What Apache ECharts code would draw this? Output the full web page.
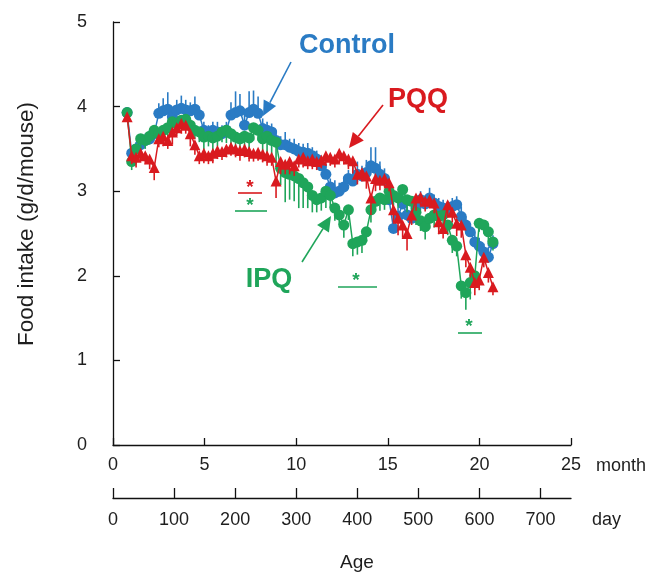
<!DOCTYPE html>
<html>
<head>
<meta charset="utf-8">
<script src="https://cdn.jsdelivr.net/npm/echarts@6/dist/echarts.min.js"></script>
<style>
html,body{margin:0;padding:0;background:#fff;}
#chart{width:656px;height:579px;}
</style>
</head>
<body>
<div id="chart"></div>
<script>
// ---- data (age in months, food intake g/d/mouse) ----
const months = [0.77,1.02,1.26,1.51,1.76,2.00,2.25,2.50,2.74,2.99,3.24,3.48,3.73,3.97,4.22,4.47,4.71,4.96,5.21,5.45,5.70,5.95,6.19,6.44,6.69,6.93,7.18,7.43,7.67,7.92,8.17,8.41,8.66,8.90,9.15,9.40,9.64,9.89,10.14,10.38,10.63,10.88,11.12,11.37,11.62,11.86,12.11,12.35,12.60,12.85,13.09,13.34,13.59,13.83,14.08,14.33,14.57,14.82,15.07,15.31,15.56,15.81,16.05,16.30,16.54,16.79,17.04,17.28,17.53,17.78,18.02,18.27,18.52,18.76,19.01,19.26,19.50,19.75,19.99,20.24,20.49,20.74];

const controlVals = [3.93,3.45,3.5,3.55,3.6,3.62,3.68,3.92,3.95,3.97,3.88,3.96,3.98,3.96,3.95,3.97,3.9,3.72,3.7,3.72,3.7,3.68,3.72,3.9,3.93,3.95,3.78,3.93,3.97,3.92,3.74,3.72,3.7,3.6,3.55,3.55,3.52,3.5,3.47,3.46,3.45,3.42,3.38,3.3,3.2,3.05,2.98,3.0,3.05,3.15,3.12,3.2,3.18,3.22,3.3,3.27,3.2,3.15,2.9,2.56,2.7,2.85,2.72,2.68,2.8,2.9,2.85,2.92,2.86,2.82,2.8,2.76,2.82,2.84,2.7,2.6,2.52,2.4,2.35,2.28,2.22,2.38];
const controlErr = [0.05,0.08,0.08,0.1,0.08,0.1,0.1,0.12,0.15,0.2,0.1,0.12,0.15,0.12,0.1,0.15,0.1,0.1,0.08,0.1,0.12,0.1,0.1,0.15,0.25,0.2,0.15,0.25,0.22,0.2,0.12,0.1,0.1,0.12,0.1,0.15,0.1,0.12,0.1,0.1,0.12,0.1,0.1,0.1,0.12,0.1,0.15,0.1,0.12,0.1,0.2,0.15,0.12,0.15,0.22,0.25,0.15,0.12,0.1,0.12,0.1,0.12,0.1,0.1,0.12,0.1,0.1,0.12,0.1,0.1,0.1,0.12,0.1,0.1,0.12,0.1,0.1,0.12,0.1,0.1,0.12,0.1];

const pqqVals = [3.88,3.42,3.4,3.45,3.42,3.38,3.28,3.62,3.65,3.6,3.7,3.75,3.8,3.78,3.68,3.55,3.42,3.45,3.42,3.45,3.48,3.47,3.5,3.52,3.5,3.48,3.5,3.47,3.45,3.46,3.44,3.42,3.4,3.12,3.35,3.32,3.35,3.3,3.38,3.4,3.36,3.38,3.35,3.37,3.42,3.4,3.38,3.45,3.42,3.38,3.36,3.2,3.22,3.18,2.92,3.15,3.13,3.15,3.1,2.78,2.68,2.6,2.5,2.72,2.92,2.93,2.88,2.9,2.86,2.64,2.56,2.84,2.75,2.62,2.6,2.25,2.1,1.92,1.95,2.22,2.04,1.87];
const pqqErr = [0.05,0.1,0.12,0.1,0.1,0.12,0.15,0.1,0.12,0.1,0.15,0.1,0.12,0.1,0.15,0.12,0.1,0.12,0.1,0.12,0.1,0.1,0.1,0.1,0.1,0.12,0.1,0.12,0.1,0.1,0.1,0.12,0.1,0.2,0.15,0.12,0.15,0.12,0.1,0.12,0.1,0.12,0.1,0.1,0.12,0.1,0.1,0.12,0.1,0.12,0.15,0.12,0.1,0.15,0.2,0.15,0.12,0.1,0.1,0.15,0.2,0.15,0.2,0.12,0.15,0.1,0.12,0.1,0.12,0.15,0.12,0.15,0.12,0.15,0.15,0.15,0.12,0.15,0.12,0.12,0.12,0.1];

const ipqVals = [3.93,3.35,3.5,3.62,3.6,3.65,3.72,3.68,3.72,3.75,3.82,3.8,3.84,3.85,3.78,3.72,3.7,3.64,3.65,3.63,3.65,3.7,3.72,3.68,3.64,3.62,3.65,3.63,3.75,3.72,3.62,3.65,3.6,3.58,3.27,3.22,3.2,3.18,3.15,3.1,3.05,2.95,2.9,2.92,3.0,2.95,2.8,2.72,2.6,2.78,2.38,2.4,2.42,2.52,2.78,2.88,2.92,2.9,3.0,2.95,2.92,3.02,2.9,2.88,2.75,2.65,2.58,2.68,2.72,2.7,2.72,2.6,2.42,2.35,1.88,1.8,1.92,2.0,2.62,2.6,2.52,2.4];
const ipqErr = [0.05,0.1,0.1,0.12,0.1,0.1,0.1,0.1,0.12,0.1,0.1,0.12,0.1,0.12,0.15,0.1,0.12,0.15,0.12,0.15,0.12,0.12,0.15,0.15,0.12,0.15,0.12,0.12,0.15,0.12,0.15,0.2,0.25,0.3,0.2,0.35,0.3,0.3,0.35,0.3,0.25,0.2,0.15,0.15,0.2,0.15,0.15,0.12,0.15,0.12,0.15,0.15,0.15,0.12,0.15,0.12,0.15,0.12,0.15,0.12,0.12,0.15,0.15,0.12,0.15,0.12,0.15,0.12,0.15,0.15,0.12,0.12,0.15,0.12,0.15,0.2,0.2,0.15,0.1,0.1,0.12,0.1];

const monthTicks = [0,5,10,15,20,25];
const dayTicks = [0,100,200,300,400,500,600,700];
const yTicks = [0,1,2,3,4,5];

// ---- style ----
const BLUE = '#2a7bc4', RED = '#d91a1f', GREEN = '#1fa55a';
const FONT = 'Liberation Sans, Arial, sans-serif';
const TXT = '#1e1e1e';

function pairs(vals){ return months.map((m,i)=>[m, vals[i]]); }
function errPairs(vals, errs){ return months.map((m,i)=>[m, vals[i], errs[i]]); }
function errSeries(vals, errs, dir, color, z){
  return {
    type:'custom', xAxisIndex:0, yAxisIndex:0, z:z, silent:true,
    data: errPairs(vals, errs),
    renderItem: function(params, api){
      const x = api.value(0), y = api.value(1), e = api.value(2);
      const p1 = api.coord([x, y]);
      const p2 = api.coord([x, y + dir*e]);
      return {type:'line', shape:{x1:p1[0],y1:p1[1],x2:p2[0],y2:p2[1]},
              style:{stroke:color, lineWidth:1.6}};
    }
  };
}
function lineSeries(name, vals, color, symbol, size, z){
  return {
    name:name, type:'line', xAxisIndex:0, yAxisIndex:0, z:z,
    data: pairs(vals), symbol:symbol, symbolSize:size, showSymbol:true,
    lineStyle:{color:color, width:1.5}, itemStyle:{color:color, borderWidth:0},
    emphasis:{disabled:true}
  };
}

function arrow(x1,y1,x2,y2,color){
  const dx=x2-x1, dy=y2-y1, L=Math.hypot(dx,dy), ux=dx/L, uy=dy/L;
  const hl=15, hw=7;
  const bx=x2-ux*hl, by=y2-uy*hl;
  return [
    {type:'line', shape:{x1:x1,y1:y1,x2:bx,y2:by}, style:{stroke:color, lineWidth:1.6}, z:100},
    {type:'polygon', shape:{points:[[x2,y2],[bx-uy*hw,by+ux*hw],[bx+uy*hw,by-ux*hw]]}, style:{fill:color}, z:100}
  ];
}
function label(txt, x, y, color){
  return {type:'text', x:x, y:y, z:100, style:{text:txt, fill:color, font:'bold 27px '+FONT, textAlign:'center', textVerticalAlign:'middle'}};
}
function star(x, y, x1, x2, ly, color){
  return [
    {type:'text', x:x, y:y+4, z:100, style:{text:'*', fill:color, font:'bold 19px '+FONT, textAlign:'center', textVerticalAlign:'middle'}},
    {type:'line', shape:{x1:x1,y1:ly,x2:x2,y2:ly}, style:{stroke:color, lineWidth:1.6}, z:100}
  ];
}
function plain(txt, x, y, size, align){
  return {type:'text', x:x, y:y, z:100, style:{text:txt, fill:TXT, font:size+'px '+FONT, textAlign:align||'left', textVerticalAlign:'middle'}};
}

const axisLineStyle = {color:'#111', width:1.3};
const chart = echarts.init(document.getElementById('chart'), null, {renderer:'canvas'});
chart.setOption({
  animation:false,
  backgroundColor:'#fff',
  grid:{left:113, right:85, top:22, bottom:134, containLabel:false},
  xAxis:[
    {type:'value', min:0, max:25, interval:5, position:'bottom',
     axisLine:{show:true, onZero:false, lineStyle:axisLineStyle},
     axisTick:{show:true, inside:true, length:7, lineStyle:axisLineStyle, customValues:monthTicks},
     axisLabel:{color:TXT, fontSize:18, fontFamily:FONT, margin:11, customValues:monthTicks},
     splitLine:{show:false}},
    {type:'value', min:0, max:750, interval:50, position:'bottom', offset:53,
     axisLine:{show:true, onZero:false, lineStyle:axisLineStyle},
     axisTick:{show:true, inside:true, length:10, lineStyle:axisLineStyle, customValues:dayTicks},
     axisLabel:{color:TXT, fontSize:18, fontFamily:FONT, margin:13, customValues:dayTicks},
     splitLine:{show:false}}
  ],
  yAxis:{type:'value', min:0, max:5, interval:1,
     axisLine:{show:true, onZero:false, lineStyle:axisLineStyle},
     axisTick:{show:true, inside:true, length:7, lineStyle:axisLineStyle, customValues:yTicks},
     axisLabel:{color:TXT, fontSize:18, fontFamily:FONT, margin:26, customValues:yTicks},
     splitLine:{show:false}},
  series:[
    errSeries(controlVals, controlErr, 1, BLUE, 2),
    lineSeries('Control', controlVals, BLUE, 'circle', 11, 3),
    errSeries(ipqVals, ipqErr, -1, GREEN, 4),
    lineSeries('IPQ', ipqVals, GREEN, 'circle', 11, 5),
    errSeries(pqqVals, pqqErr, -1, RED, 6),
    lineSeries('PQQ', pqqVals, RED, 'triangle', 11, 7)
  ],
  graphic:[
    label('Control', 347, 46, BLUE),
    label('PQQ', 418, 100, RED),
    label('IPQ', 269, 280, GREEN),
    ...arrow(291, 62, 263, 116, BLUE),
    ...arrow(383, 105, 349, 148, RED),
    ...arrow(302, 262, 331, 216, GREEN),
    ...star(250, 184, 238, 262, 193, RED),
    ...star(250, 202, 235, 267, 211, GREEN),
    ...star(356, 277, 338, 377, 287, GREEN),
    ...star(469, 323, 458, 482, 333, GREEN),
    plain('month', 596, 466, 18),
    plain('day', 592, 520, 18),
    plain('Age', 357, 563, 19, 'center'),
    {type:'text', x:27, y:224, rotation:Math.PI/2, z:100,
     style:{text:'Food intake (g/d/mouse)', fill:TXT, font:'22.5px '+FONT, textAlign:'center', textVerticalAlign:'middle'}}
  ]
});
</script>
</body>
</html>
